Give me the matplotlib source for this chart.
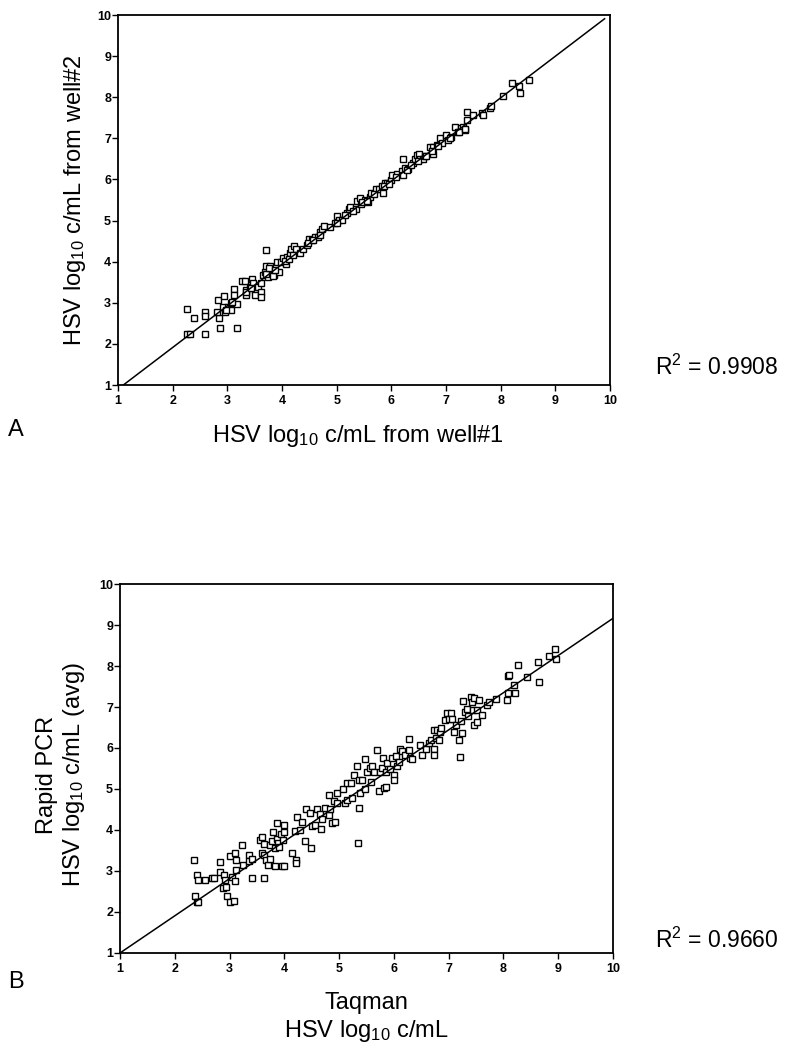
import matplotlib
matplotlib.use("Agg")
import matplotlib.pyplot as plt
import numpy as np

plt.rcParams['font.family'] = ['Liberation Sans', 'DejaVu Sans']
plt.rcParams['mathtext.fontset'] = 'custom'
plt.rcParams['mathtext.rm'] = 'Liberation Sans'
plt.rcParams['mathtext.it'] = 'Liberation Sans'

# panel A: well#1 vs well#2
a_x = [2.26, 2.39, 2.26, 2.31, 2.60, 2.60, 2.59, 2.84, 2.86, 2.81, 2.83, 2.94, 2.92, 2.95,
       3.01, 3.07, 3.06, 3.12, 3.12, 3.17, 3.17, 3.26, 3.32, 3.35, 3.35, 3.41, 3.46, 3.47,
       3.50, 3.50, 3.56, 3.61, 3.62, 3.61, 3.65, 3.68, 3.71, 3.70, 3.74, 3.78, 3.81, 3.85,
       3.90, 3.94, 3.99, 4.02, 4.07, 4.09, 4.14, 4.17, 4.22, 4.26, 4.33, 4.39, 4.45, 4.50,
       4.54, 4.60, 4.66, 4.69, 4.74, 4.76, 4.87, 4.97, 5.01, 5.05, 5.09, 5.19, 5.23, 5.25,
       5.35, 5.37, 5.42, 5.44, 5.51, 5.58, 5.61, 5.62, 5.72, 5.78, 5.84, 5.82, 5.88, 5.92,
       6.00, 6.02, 6.11, 6.19, 6.22, 6.22, 6.25, 6.31, 6.39, 6.43, 6.46, 6.51, 6.52, 6.58,
       6.61, 6.70, 6.77, 6.77, 6.84, 6.89, 6.92, 7.00, 7.04, 7.10, 7.17, 7.21, 7.27, 7.31,
       7.35, 7.38, 7.39, 7.49, 7.65, 7.67, 7.80, 7.83, 8.05, 8.20, 8.34, 8.36, 8.52,
       2.98, 3.09, 3.35, 3.44, 3.71, 3.76, 3.84, 3.88, 4.05, 4.12, 4.20, 4.48, 4.57, 4.70,
       5.00, 5.15, 5.30, 5.47, 5.55, 5.68, 5.86, 5.95, 6.08, 6.28, 6.36, 6.48, 6.64, 6.74,
       6.86, 7.07, 7.24, 7.34]
a_y = [2.86, 2.62, 2.25, 2.25, 2.78, 2.67, 2.25, 2.62, 2.38, 2.78, 3.07, 3.16, 2.90, 2.78,
       2.90, 3.00, 2.82, 3.33, 3.20, 2.97, 2.38, 3.54, 3.54, 3.30, 3.19, 3.39, 3.59, 3.47,
       3.30, 3.19, 3.39, 3.47, 3.27, 3.13, 3.67, 3.75, 4.28, 3.90, 3.63, 3.90, 3.75, 3.67,
       4.00, 3.75, 4.00, 4.10, 3.94, 4.12, 4.22, 4.30, 4.38, 4.32, 4.22, 4.32, 4.40, 4.54,
       4.53, 4.59, 4.59, 4.73, 4.79, 4.87, 4.85, 4.93, 5.11, 5.01, 5.01, 5.19, 5.27, 5.32,
       5.27, 5.48, 5.54, 5.40, 5.50, 5.46, 5.58, 5.68, 5.76, 5.76, 5.68, 5.84, 5.92, 5.92,
       5.99, 6.11, 6.13, 6.21, 6.11, 6.49, 6.27, 6.25, 6.41, 6.49, 6.59, 6.63, 6.49, 6.49,
       6.57, 6.78, 6.80, 6.63, 6.84, 7.00, 6.89, 7.08, 6.96, 7.04, 7.27, 7.16, 7.24, 7.27,
       7.20, 7.65, 7.45, 7.57, 7.61, 7.57, 7.75, 7.79, 8.03, 8.35, 8.27, 8.11, 8.43,
       2.82, 3.03, 3.26, 3.36, 3.71, 3.84, 3.66, 3.80, 4.02, 4.06, 4.16, 4.46, 4.52, 4.66,
       4.95, 5.13, 5.24, 5.44, 5.48, 5.64, 5.84, 5.90, 6.06, 6.24, 6.34, 6.44, 6.58, 6.70,
       6.82, 7.02, 7.16, 7.22]
a_fit = (1.012, -0.11)
a_fit_range = (1.1, 9.9)
a_r2 = "0.9908"

# panel B: Taqman vs Rapid PCR
b_x = [2.35, 2.40, 2.43, 2.37, 2.40, 2.42, 2.55, 2.68, 2.71, 2.82, 2.83, 2.89, 2.88, 2.94,
       2.95, 2.92, 3.01, 3.01, 3.04, 3.09, 3.10, 3.12, 3.11, 3.10, 3.22, 3.25, 3.35, 3.35,
       3.41, 3.41, 3.55, 3.59, 3.60, 3.62, 3.62, 3.63, 3.67, 3.70, 3.73, 3.74, 3.77, 3.80,
       3.83, 3.83, 3.86, 3.86, 3.89, 3.91, 3.93, 3.96, 3.97, 3.99, 4.00, 3.99, 4.14, 4.19,
       4.22, 4.22, 4.23, 4.29, 4.32, 4.38, 4.40, 4.47, 4.49, 4.50, 4.56, 4.60, 4.66, 4.67,
       4.69, 4.75, 4.81, 4.81, 4.84, 4.87, 4.90, 4.93, 4.96, 4.96, 5.07, 5.11, 5.14, 5.14,
       5.22, 5.24, 5.27, 5.33, 5.36, 5.35, 5.36, 5.39, 5.42, 5.48, 5.48, 5.51, 5.56, 5.58,
       5.60, 5.63, 5.69, 5.72, 5.75, 5.78, 5.80, 5.82, 5.85, 5.85, 5.88, 5.93, 5.97, 6.00,
       6.01, 6.03, 6.06, 6.09, 6.12, 6.15, 6.21, 6.27, 6.30, 6.33, 6.27, 6.48, 6.51, 6.59,
       6.64, 6.67, 6.73, 6.73, 6.73, 6.76, 6.78, 6.82, 6.84, 6.86, 6.94, 6.97, 7.00, 7.04,
       7.06, 7.10, 7.14, 7.18, 7.20, 7.23, 7.25, 7.27, 7.29, 7.34, 7.35, 7.41, 7.43, 7.45,
       7.46, 7.47, 7.51, 7.52, 7.55, 7.61, 7.70, 7.73, 7.86, 8.07, 8.08, 8.08, 8.10, 8.19,
       8.21, 8.26, 8.43, 8.63, 8.65, 8.83, 8.94, 8.96]
b_y = [3.27, 2.91, 2.79, 2.38, 2.24, 2.24, 2.79, 2.82, 2.84, 3.21, 2.97, 2.90, 2.59, 2.62,
       2.38, 2.79, 3.37, 2.24, 2.85, 2.26, 3.45, 3.27, 3.02, 2.76, 3.64, 3.15, 3.39, 3.24,
       3.29, 2.83, 3.75, 3.83, 3.45, 3.39, 3.65, 2.83, 3.27, 3.15, 3.64, 3.29, 3.73, 3.95,
       3.13, 3.56, 4.16, 3.77, 3.69, 3.59, 3.90, 3.11, 3.75, 3.94, 4.13, 3.11, 3.45, 3.98,
       3.27, 3.19, 4.32, 4.00, 4.20, 3.72, 4.50, 4.42, 3.56, 4.10, 4.12, 4.50, 4.38, 4.02,
       4.26, 4.54, 4.36, 4.85, 4.50, 4.16, 4.70, 4.20, 4.91, 4.66, 4.99, 4.66, 4.74, 5.15,
       5.15, 4.77, 5.35, 5.55, 4.53, 3.69, 5.23, 4.91, 5.23, 5.72, 4.99, 5.41, 5.51, 5.17,
       5.57, 5.41, 5.96, 4.95, 5.41, 5.51, 5.76, 5.03, 5.05, 5.41, 5.63, 5.49, 5.76, 5.34,
       5.23, 5.80, 5.55, 5.66, 5.98, 5.92, 5.84, 6.22, 5.76, 5.72, 5.96, 6.08, 5.84, 5.97,
       6.12, 6.20, 6.44, 5.97, 5.84, 6.24, 6.45, 6.20, 6.39, 6.48, 6.68, 6.85, 6.71, 6.85,
       6.71, 6.39, 6.56, 6.20, 5.78, 6.66, 6.36, 7.15, 6.89, 6.94, 6.79, 7.25, 7.13, 6.93,
       6.56, 7.21, 6.63, 6.93, 7.17, 6.81, 7.05, 7.11, 7.20, 7.17, 7.35, 7.76, 7.79, 7.53,
       7.33, 8.02, 7.74, 8.10, 7.62, 8.25, 8.42, 8.18]
b_fit = (0.907, 0.093)
b_fit_range = (1.0, 10.0)
b_r2 = "0.9660"

ticks = list(range(1, 11))
tick_font = dict(family=['Liberation Sans Narrow', 'Liberation Sans', 'DejaVu Sans'],
                 weight='bold', size=9)


def draw_panel(ax, xs, ys, fit, fit_range):
    ax.plot(xs, ys, linestyle='none', marker='s', markersize=5,
            markerfacecolor='white', markeredgecolor='black', markeredgewidth=1.0)
    fx = np.array(fit_range)
    ax.plot(fx, fit[0] * fx + fit[1], color='black', linewidth=1.1)
    ax.set_xlim(1, 10)
    ax.set_ylim(1, 10)
    ax.set_xticks(ticks)
    ax.set_yticks(ticks)
    ax.set_xticklabels([str(t) for t in ticks], fontdict=tick_font)
    ax.set_yticklabels([str(t) for t in ticks], fontdict=tick_font)
    ax.tick_params(direction='out', length=4, width=1, pad=1)
    ax.tick_params(axis='x', pad=3)
    for sp in ax.spines.values():
        sp.set_linewidth(1.3)


fig = plt.figure(figsize=(7.99, 10.5), dpi=100)

ax_a = fig.add_axes([0.1477, 0.6333, 0.6158, 0.3524])
draw_panel(ax_a, a_x, a_y, a_fit, a_fit_range)
fig.text(75 / 799, 1 - 200 / 1050, 'HSV log$_{10}$ c/mL from well#2', rotation=90,
         ha='center', va='center', fontsize=17)
fig.text(358 / 799, 1 - 436 / 1050, 'HSV log$_{10}$ c/mL from well#1',
         ha='center', va='center', fontsize=17)
fig.text(8 / 799, 1 - 430 / 1050, 'A', ha='left', va='center', fontsize=17)
fig.text(655 / 799, 1 - 367 / 1050, 'R$^2$ = ' + a_r2, ha='left', va='center', fontsize=16.5)

ax_b = fig.add_axes([0.1502, 0.0924, 0.617, 0.3514])
draw_panel(ax_b, b_x, b_y, b_fit, b_fit_range)
fig.text(47 / 799, 1 - 775 / 1050, 'Rapid PCR', rotation=90,
         ha='center', va='center', fontsize=17)
fig.text(74 / 799, 1 - 775 / 1050, 'HSV log$_{10}$ c/mL (avg)', rotation=90,
         ha='center', va='center', fontsize=17)
fig.text(366 / 799, 1 - 1003 / 1050, 'Taqman', ha='center', va='center', fontsize=17)
fig.text(366 / 799, 1 - 1031 / 1050, 'HSV log$_{10}$ c/mL', ha='center', va='center', fontsize=17)
fig.text(8 / 799, 1 - 982 / 1050, 'B', ha='left', va='center', fontsize=17)
fig.text(655 / 799, 1 - 940 / 1050, 'R$^2$ = ' + b_r2, ha='left', va='center', fontsize=16.5)

fig.savefig('out.png', dpi=100)
